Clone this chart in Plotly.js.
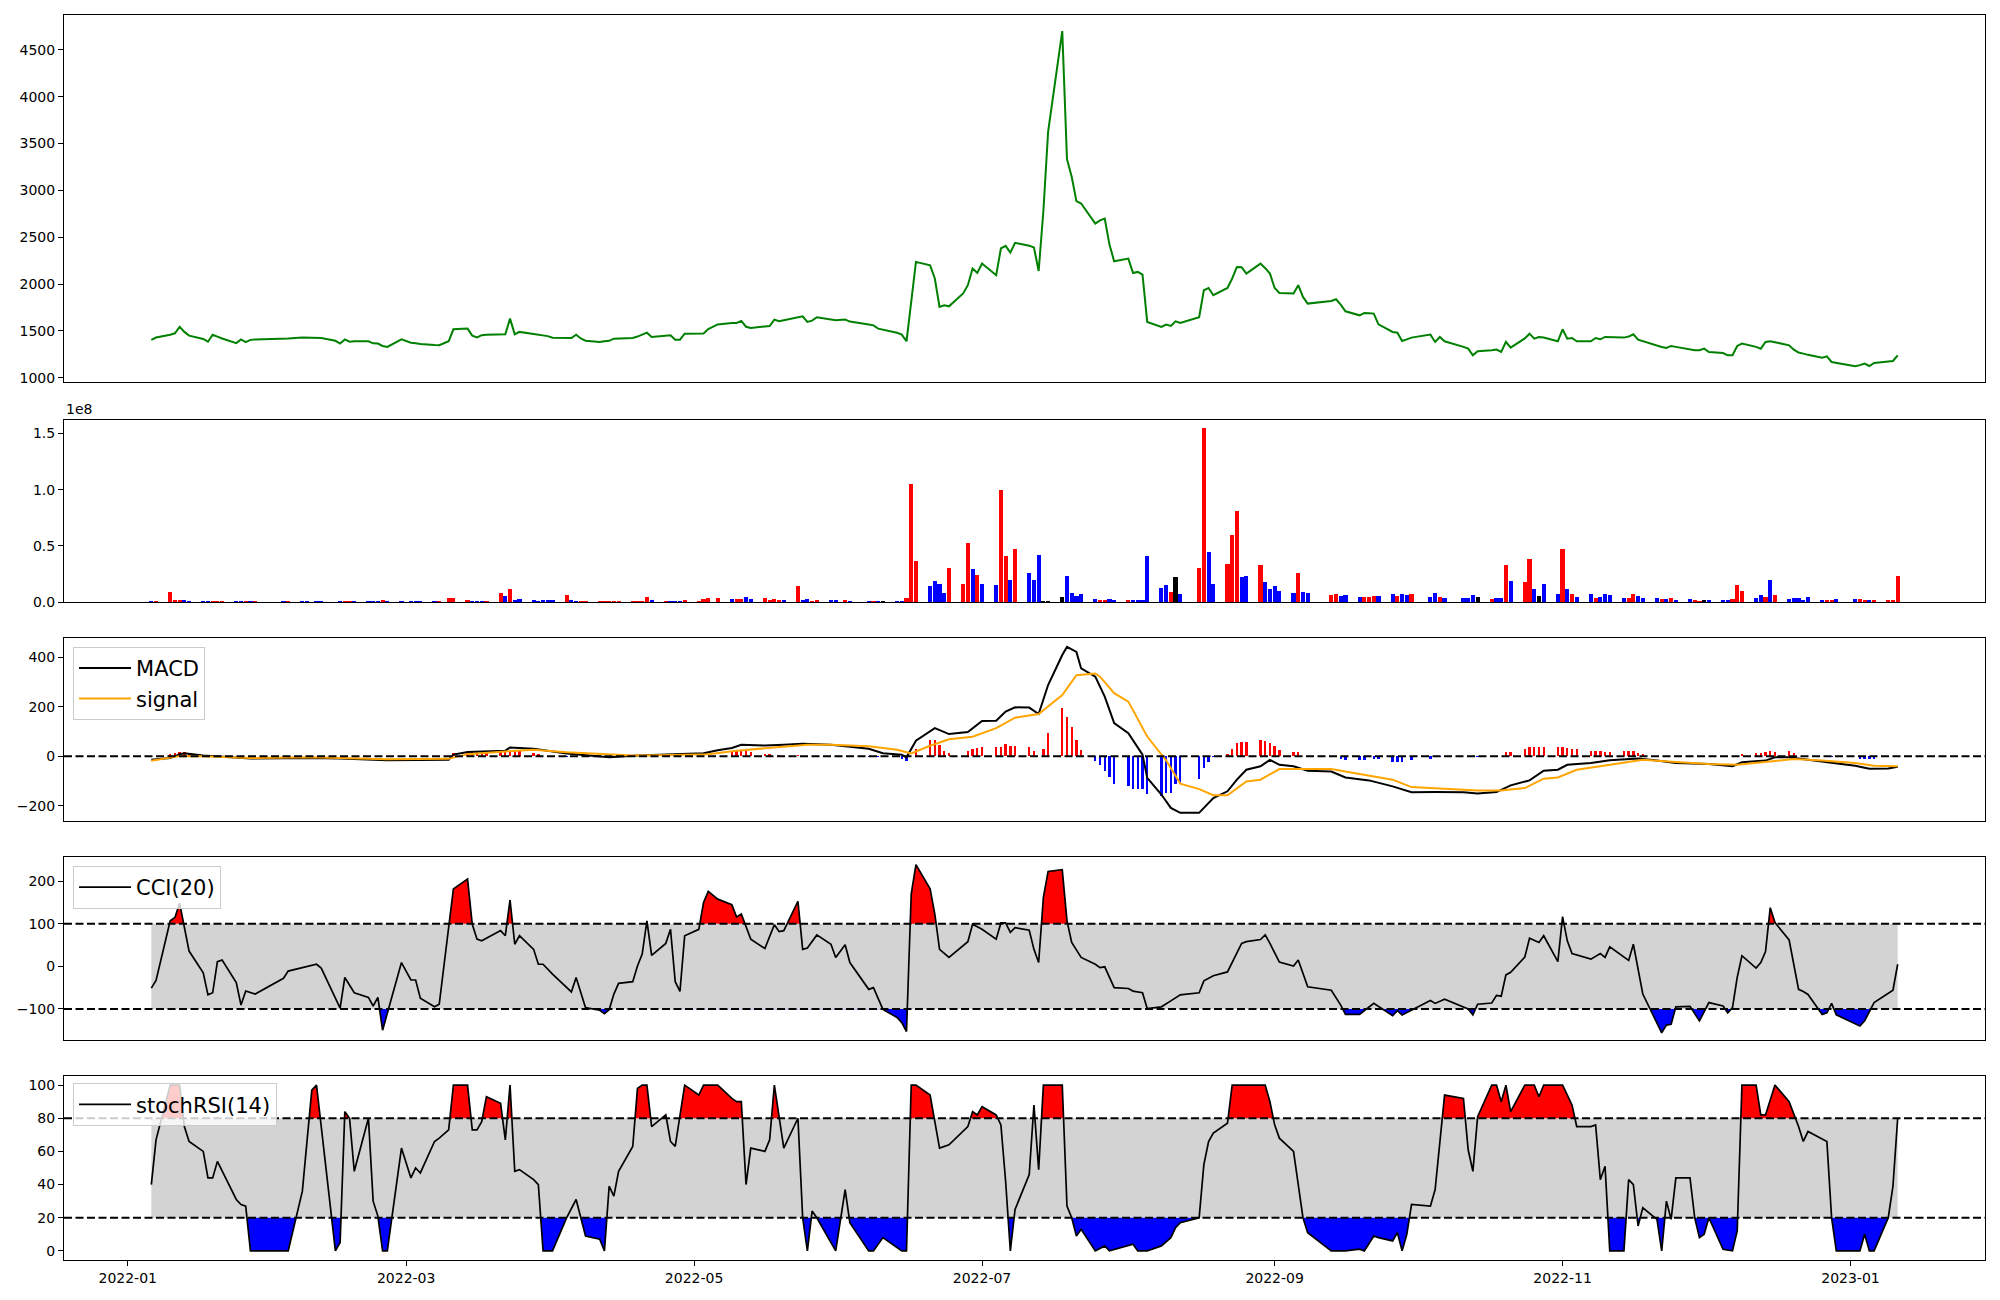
<!DOCTYPE html>
<html><head><meta charset="utf-8">
<script src="https://cdn.plot.ly/plotly-3.0.1.min.js"></script>
<style>html,body{margin:0;padding:0;background:#fff}#chart{width:2000px;height:1300px}</style>
</head><body><div id="chart"></div>
<script>
// ---------- trading days (KRX calendar) ----------
const tradingDates = [
"2022-01-06","2022-01-07","2022-01-10","2022-01-11","2022-01-12","2022-01-13","2022-01-14","2022-01-17","2022-01-18","2022-01-19","2022-01-20","2022-01-21","2022-01-24","2022-01-25","2022-01-26","2022-01-27","2022-01-28",
"2022-02-03","2022-02-04","2022-02-07","2022-02-08","2022-02-09","2022-02-10","2022-02-11","2022-02-14","2022-02-15","2022-02-16","2022-02-17","2022-02-18","2022-02-21","2022-02-22","2022-02-23","2022-02-24","2022-02-25","2022-02-28",
"2022-03-02","2022-03-03","2022-03-04","2022-03-07","2022-03-08","2022-03-10","2022-03-11","2022-03-14","2022-03-15","2022-03-16","2022-03-17","2022-03-18","2022-03-21","2022-03-22","2022-03-23","2022-03-24","2022-03-25","2022-03-28","2022-03-29","2022-03-30","2022-03-31",
"2022-04-01","2022-04-04","2022-04-05","2022-04-06","2022-04-07","2022-04-08","2022-04-11","2022-04-12","2022-04-13","2022-04-14","2022-04-15","2022-04-18","2022-04-19","2022-04-20","2022-04-21","2022-04-22","2022-04-25","2022-04-26","2022-04-27","2022-04-28","2022-04-29",
"2022-05-02","2022-05-03","2022-05-04","2022-05-06","2022-05-09","2022-05-10","2022-05-11","2022-05-12","2022-05-13","2022-05-16","2022-05-17","2022-05-18","2022-05-19","2022-05-20","2022-05-23","2022-05-24","2022-05-25","2022-05-26","2022-05-27","2022-05-30","2022-05-31",
"2022-06-02","2022-06-03","2022-06-07","2022-06-08","2022-06-09","2022-06-10","2022-06-13","2022-06-14","2022-06-15","2022-06-16","2022-06-17","2022-06-20","2022-06-21","2022-06-22","2022-06-23","2022-06-24","2022-06-27","2022-06-28","2022-06-29","2022-06-30",
"2022-07-01","2022-07-04","2022-07-05","2022-07-06","2022-07-07","2022-07-08","2022-07-11","2022-07-12","2022-07-13","2022-07-14","2022-07-15","2022-07-18","2022-07-19","2022-07-20","2022-07-21","2022-07-22","2022-07-25","2022-07-26","2022-07-27","2022-07-28","2022-07-29",
"2022-08-01","2022-08-02","2022-08-03","2022-08-04","2022-08-05","2022-08-08","2022-08-09","2022-08-10","2022-08-11","2022-08-12","2022-08-16","2022-08-17","2022-08-18","2022-08-19","2022-08-22","2022-08-23","2022-08-24","2022-08-25","2022-08-26","2022-08-29","2022-08-30","2022-08-31",
"2022-09-01","2022-09-02","2022-09-05","2022-09-06","2022-09-07","2022-09-08","2022-09-13","2022-09-14","2022-09-15","2022-09-16","2022-09-19","2022-09-20","2022-09-21","2022-09-22","2022-09-23","2022-09-26","2022-09-27","2022-09-28","2022-09-29","2022-09-30",
"2022-10-04","2022-10-05","2022-10-06","2022-10-07","2022-10-11","2022-10-12","2022-10-13","2022-10-14","2022-10-17","2022-10-18","2022-10-19","2022-10-20","2022-10-21","2022-10-24","2022-10-25","2022-10-26","2022-10-27","2022-10-28","2022-10-31",
"2022-11-01","2022-11-02","2022-11-03","2022-11-04","2022-11-07","2022-11-08","2022-11-09","2022-11-10","2022-11-11","2022-11-14","2022-11-15","2022-11-16","2022-11-17","2022-11-18","2022-11-21","2022-11-22","2022-11-23","2022-11-24","2022-11-25","2022-11-28","2022-11-29","2022-11-30",
"2022-12-01","2022-12-02","2022-12-05","2022-12-06","2022-12-07","2022-12-08","2022-12-09","2022-12-12","2022-12-13","2022-12-14","2022-12-15","2022-12-16","2022-12-19","2022-12-20","2022-12-21","2022-12-22","2022-12-23","2022-12-26","2022-12-27","2022-12-28","2022-12-29",
"2023-01-02","2023-01-03","2023-01-04","2023-01-05","2023-01-06","2023-01-09","2023-01-10","2023-01-11"];

const closePrice = [
1405,1430,1460,1475,1545,1490,1450,1415,1385,1460,1440,1420,1370,1410,1380,1405,1410,
1415,1420,1430,1428,1425,1430,1425,1395,1365,1410,1385,1390,1390,1368,1365,1340,1330,1410,
1375,1370,1362,1350,1348,1390,1518,1525,1450,1432,1455,1460,1462,1465,1632,1465,1490,1465,1460,1450,1445,
1428,1425,1425,1460,1420,1396,1383,1390,1395,1418,1420,1425,1440,1461,1482,1436,1450,1455,1407,1407,1471,
1471,1472,1520,1570,1585,1585,1607,1545,1532,1545,1553,1621,1603,1615,1650,1656,1596,1610,1646,1618,1614,
1621,1600,1570,1560,1525,1515,1480,1461,1390,1810,2237,2200,2060,1756,1774,1763,1900,1988,2166,2120,
2219,2095,2380,2408,2336,2440,2410,2390,2140,2780,3625,4700,3333,3145,2885,2860,2646,2680,2699,2422,2244,
2272,2119,2130,2101,1596,1543,1568,1553,1603,1585,1646,1934,1959,1881,1959,2060,2183,2180,2112,2219,2170,2112,
1959,1906,1899,1988,1863,1792,1820,1838,1781,1710,1667,1692,1688,1685,1571,1489,1482,1393,1410,1429,
1461,1383,1436,1390,1330,1311,1240,1283,1295,1301,1276,1383,1322,1420,1471,1418,1436,1430,1390,
1518,1418,1425,1390,1390,1425,1411,1436,1436,1429,1440,1464,1407,1390,1340,1329,1319,1340,1330,1305,1294,1294,
1311,1276,1265,1240,1240,1340,1365,1330,1311,1383,1390,1380,1347,1300,1269,1258,1245,1215,1229,1169,1160,
1123,1135,1151,1126,1158,1175,1180,1240];

// volume in millions of shares
const volumeM = [
0.9,0.9,9.1,2,2,2,0.9,0.9,0.9,0.9,0.9,0.9,0.9,0.9,0.9,0.9,0.9,
0.9,0.9,0.9,0.9,0.3,0.9,0.9,0.3,0.9,0.9,0.9,0.9,0.9,0.9,0.9,2,0.9,0.9,
0.9,0.9,0.9,0.9,0.9,3.8,3.8,2,0.9,0.9,0.9,0.9,8.3,5.6,11.8,2,3,2,0.9,2,2,
2,6.5,2,0.9,0.9,0.9,0.9,0.9,0.9,0.9,0.9,0.9,0.9,0.9,4.7,2,0.9,0.9,0.9,0.9,2,
0.9,3,3.8,3.8,3,3,3,4.7,3,3.8,2,3,2,2,14.5,2,3,0.9,2,2,2,
2,0.9,0.9,0.9,0.9,0.9,0.9,0.9,3.8,104.7,36.6,14.5,18.9,16.2,8.3,30.4,16.2,52.5,29.5,24.2,
16.2,15,99.4,41,19.8,47.2,26,19.8,41.9,1,1,4.7,23.3,8.3,5.6,7.4,3,2,2,3,2,
2,2,2,2,41,12.7,15.3,9.1,22.4,7.4,30.4,155,44.5,16.2,33.9,59.6,80.8,22.4,23.3,33,18,11.8,
14.5,10,8.3,26,9.1,8.3,6.5,7.4,5.6,6.5,4.7,4.7,4.7,5.6,5.6,7.4,5.6,7.4,6.5,7.4,
4.7,8.3,4.7,3.8,3.8,3.8,6.5,4.7,3,3.8,3.8,33,18.9,18,38.3,11.8,5.6,16.2,7.4,
47.2,11.8,7.4,4.7,7.4,3.8,4.7,7.4,6.5,3.8,3.8,7.4,5.6,3.8,3.8,3,3,3.8,2,3,2,0.9,
2,2,2,2,3,15.3,10,3.8,6.5,4.7,19.8,6.5,3,3.8,3.8,2,4.7,2,2,2,3,
3,3,2,2,2,2,2,23.3];

// 1 = close above open (red), -1 = below (blue), 0 = unchanged (black)
const candleDir = [
-1,1,1,1,1,-1,-1,-1,-1,1,1,1,-1,-1,1,-1,1,
-1,1,-1,-1,-1,-1,-1,-1,-1,1,1,-1,-1,-1,-1,1,-1,-1,
-1,-1,-1,-1,1,1,1,1,-1,-1,-1,1,1,-1,1,-1,-1,-1,-1,-1,-1,
-1,1,-1,-1,1,1,1,1,1,1,1,1,1,1,1,-1,1,-1,-1,-1,1,
1,1,1,1,-1,1,1,-1,-1,1,1,1,1,-1,1,-1,-1,1,1,-1,-1,
1,-1,-1,1,-1,0,-1,-1,1,1,1,-1,-1,-1,-1,1,1,1,-1,1,
-1,-1,1,1,-1,1,-1,-1,-1,0,0,0,-1,-1,-1,-1,-1,1,1,-1,-1,
1,-1,-1,-1,-1,-1,-1,1,0,-1,1,1,-1,-1,1,1,1,-1,-1,1,-1,-1,
-1,-1,-1,1,-1,-1,1,1,-1,-1,-1,1,1,1,-1,-1,1,-1,-1,1,
-1,-1,1,-1,-1,-1,-1,0,1,-1,-1,1,-1,1,1,-1,0,-1,-1,
1,-1,1,-1,-1,1,-1,-1,-1,-1,1,1,-1,-1,-1,1,-1,1,-1,-1,1,1,
0,-1,-1,-1,1,1,1,-1,-1,1,-1,1,-1,-1,-1,-1,-1,-1,1,1,-1,
-1,1,1,-1,1,1,1,1];

// ---------- MACD ----------
const macdDates = ["2022-01-06","2022-01-10","2022-01-12","2022-01-13","2022-01-17","2022-01-20","2022-01-27","2022-02-03","2022-02-09","2022-02-15","2022-02-25","2022-03-10","2022-03-11","2022-03-14","2022-03-22","2022-03-23","2022-03-28","2022-04-04","2022-04-08","2022-04-13","2022-04-19","2022-04-27","2022-05-03","2022-05-06","2022-05-09","2022-05-11","2022-05-16","2022-05-20","2022-05-24","2022-05-30","2022-06-07","2022-06-10","2022-06-14","2022-06-15","2022-06-17","2022-06-21","2022-06-24","2022-06-28","2022-07-01","2022-07-04","2022-07-06","2022-07-08","2022-07-11","2022-07-13","2022-07-15","2022-07-18","2022-07-19","2022-07-21","2022-07-22","2022-07-25","2022-07-27","2022-07-29","2022-08-01","2022-08-04","2022-08-05","2022-08-08","2022-08-10","2022-08-12","2022-08-16","2022-08-19","2022-08-22","2022-08-24","2022-08-26","2022-08-29","2022-08-31","2022-09-02","2022-09-05","2022-09-08","2022-09-13","2022-09-16","2022-09-21","2022-09-26","2022-09-30","2022-10-05","2022-10-11","2022-10-14","2022-10-18","2022-10-21","2022-10-25","2022-10-28","2022-10-31","2022-11-02","2022-11-07","2022-11-11","2022-11-17","2022-11-21","2022-11-25","2022-12-02","2022-12-07","2022-12-09","2022-12-14","2022-12-16","2022-12-19","2022-12-21","2022-12-29","2023-01-02","2023-01-05","2023-01-09","2023-01-11"];
const macdValues = [-15,-8,8,12,3,-1,-10,-9,-8,-10,-17,-15,6,17,22,35,30,11,3,-5,3,8,12,24,33,46,43,46,50,46,30,12,6,-5,62,113,89,97,142,143,180,197,196,170,287,408,441,421,354,321,240,133,93,6,-88,-155,-209,-229,-229,-169,-142,-95,-55,-41,-15,-35,-41,-59,-62,-86,-98,-122,-146,-145,-146,-151,-145,-118,-98,-59,-55,-35,-28,-17,-10,-18,-28,-32,-41,-25,-18,-5,-5,-10,-28,-39,-51,-50,-43];

const signalDates = ["2022-01-06","2022-01-12","2022-01-17","2022-01-27","2022-02-09","2022-02-25","2022-03-10","2022-03-14","2022-03-22","2022-03-28","2022-04-04","2022-04-11","2022-04-18","2022-04-27","2022-05-04","2022-05-10","2022-05-18","2022-05-25","2022-05-30","2022-06-07","2022-06-13","2022-06-16","2022-06-20","2022-06-24","2022-06-29","2022-07-04","2022-07-08","2022-07-13","2022-07-18","2022-07-21","2022-07-25","2022-07-26","2022-07-29","2022-08-01","2022-08-05","2022-08-09","2022-08-12","2022-08-16","2022-08-19","2022-08-22","2022-08-26","2022-08-29","2022-09-02","2022-09-08","2022-09-13","2022-09-19","2022-09-26","2022-09-30","2022-10-07","2022-10-14","2022-10-19","2022-10-24","2022-10-28","2022-10-31","2022-11-04","2022-11-11","2022-11-18","2022-11-25","2022-12-02","2022-12-08","2022-12-14","2022-12-20","2022-12-26","2023-01-02","2023-01-06","2023-01-11"];
const signalValues = [-19,0,0,-8,-5,-13,-11,8,19,26,16,10,3,5,8,22,35,46,46,40,26,11,42,68,78,113,155,170,247,327,334,321,254,220,79,-17,-111,-133,-158,-158,-102,-95,-52,-51,-52,-72,-95,-125,-133,-139,-139,-129,-91,-86,-55,-35,-15,-24,-32,-35,-25,-12,-18,-28,-39,-41];

const histDates = ["2022-01-10","2022-01-11","2022-01-12","2022-01-13","2022-01-14","2022-01-17",
"2022-03-11","2022-03-14","2022-03-15","2022-03-16","2022-03-17","2022-03-18","2022-03-21","2022-03-22","2022-03-23","2022-03-24","2022-03-25","2022-03-28","2022-03-29",
"2022-04-04","2022-04-06","2022-04-08",
"2022-05-09","2022-05-10","2022-05-11","2022-05-12","2022-05-13","2022-05-16","2022-05-17","2022-05-19","2022-05-23",
"2022-06-07","2022-06-09","2022-06-10","2022-06-14","2022-06-15","2022-06-17","2022-06-20","2022-06-21","2022-06-22","2022-06-23","2022-06-24","2022-06-28","2022-06-29","2022-06-30",
"2022-07-01","2022-07-04","2022-07-05","2022-07-06","2022-07-07","2022-07-08","2022-07-11","2022-07-12","2022-07-14","2022-07-15","2022-07-18","2022-07-19","2022-07-20","2022-07-21","2022-07-22","2022-07-25","2022-07-26","2022-07-27","2022-07-28","2022-07-29",
"2022-08-01","2022-08-02","2022-08-03","2022-08-04","2022-08-05","2022-08-08","2022-08-09","2022-08-10","2022-08-11","2022-08-12","2022-08-16","2022-08-17","2022-08-18","2022-08-19","2022-08-22","2022-08-23","2022-08-24","2022-08-25","2022-08-26","2022-08-29","2022-08-30","2022-08-31",
"2022-09-01","2022-09-02","2022-09-05","2022-09-06","2022-09-08","2022-09-13","2022-09-15","2022-09-16","2022-09-19","2022-09-20","2022-09-22","2022-09-23","2022-09-26","2022-09-27","2022-09-28","2022-09-30",
"2022-10-04","2022-10-06","2022-10-14","2022-10-20","2022-10-21","2022-10-24","2022-10-25","2022-10-26","2022-10-27","2022-10-28","2022-10-31",
"2022-11-01","2022-11-02","2022-11-03","2022-11-04","2022-11-07","2022-11-08","2022-11-09","2022-11-10","2022-11-11","2022-11-14","2022-11-15","2022-11-16","2022-11-17","2022-11-18","2022-11-25",
"2022-12-09","2022-12-12","2022-12-13","2022-12-14","2022-12-15","2022-12-16","2022-12-19","2022-12-20","2022-12-27","2022-12-28","2022-12-29",
"2023-01-03","2023-01-04","2023-01-05","2023-01-06","2023-01-09"];
const histValues = [8,14,16,16,11,5,
12,16,19,19,19,16,16,16,19,19,19,12,8,
-5,-5,-3,
16,22,26,19,16,8,8,6,6,
-5,-5,-5,-10,-18,30,66,66,46,19,12,22,28,32,
38,35,35,48,39,39,36,22,30,93,193,160,117,66,26,-18,-37,-59,-85,-111,
-122,-133,-133,-133,-153,-162,-149,-149,-111,-111,-91,-48,-25,-5,8,30,52,57,57,66,62,52,
39,26,15,15,-5,-5,-10,-16,-16,-16,-10,-10,-24,-24,-24,-17,
-10,-5,-2,16,16,30,38,38,38,38,35,
38,33,28,28,22,22,19,16,16,19,19,19,14,8,-2,
8,11,14,16,19,16,19,14,-5,-5,-5,
-10,-10,-10,-10,-5];

// ---------- CCI(20) ----------
const cciDates = ["2022-01-06","2022-01-07","2022-01-10","2022-01-11","2022-01-12","2022-01-14","2022-01-17","2022-01-18","2022-01-19","2022-01-20","2022-01-21","2022-01-24","2022-01-25","2022-01-26","2022-01-28",
"2022-02-03","2022-02-04","2022-02-07","2022-02-10","2022-02-11","2022-02-15","2022-02-16","2022-02-18","2022-02-21","2022-02-22","2022-02-23","2022-02-24","2022-02-28",
"2022-03-02","2022-03-03","2022-03-04","2022-03-07","2022-03-08","2022-03-11","2022-03-14","2022-03-15","2022-03-16","2022-03-17","2022-03-21","2022-03-22","2022-03-23","2022-03-24","2022-03-25","2022-03-28","2022-03-29","2022-03-30",
"2022-04-01","2022-04-05","2022-04-06","2022-04-08","2022-04-11","2022-04-12","2022-04-13","2022-04-14","2022-04-15","2022-04-18","2022-04-19","2022-04-20","2022-04-21","2022-04-22","2022-04-25","2022-04-26","2022-04-27","2022-04-28","2022-04-29",
"2022-05-02","2022-05-03","2022-05-04","2022-05-06","2022-05-09","2022-05-10","2022-05-11","2022-05-13","2022-05-16","2022-05-18","2022-05-19","2022-05-20","2022-05-23","2022-05-24","2022-05-25","2022-05-27","2022-05-30","2022-05-31",
"2022-06-02","2022-06-03","2022-06-07","2022-06-08","2022-06-10","2022-06-13","2022-06-14","2022-06-15","2022-06-16","2022-06-17","2022-06-20","2022-06-21","2022-06-22","2022-06-24","2022-06-28","2022-06-29",
"2022-07-01","2022-07-04","2022-07-05","2022-07-06","2022-07-07","2022-07-08","2022-07-11","2022-07-12","2022-07-13","2022-07-14","2022-07-15","2022-07-18","2022-07-19","2022-07-20","2022-07-22","2022-07-25","2022-07-26","2022-07-27","2022-07-29",
"2022-08-01","2022-08-02","2022-08-04","2022-08-05","2022-08-08","2022-08-10","2022-08-12","2022-08-16","2022-08-17","2022-08-19","2022-08-22","2022-08-25","2022-08-26","2022-08-29","2022-08-30","2022-08-31",
"2022-09-02","2022-09-05","2022-09-06","2022-09-08","2022-09-13","2022-09-15","2022-09-16","2022-09-19","2022-09-21","2022-09-22","2022-09-26","2022-09-27","2022-09-28",
"2022-10-04","2022-10-05","2022-10-07","2022-10-12","2022-10-13","2022-10-14","2022-10-17","2022-10-18","2022-10-19","2022-10-20","2022-10-21","2022-10-24","2022-10-25","2022-10-27","2022-10-28","2022-10-31",
"2022-11-01","2022-11-02","2022-11-03","2022-11-07","2022-11-09","2022-11-10","2022-11-11","2022-11-15","2022-11-16","2022-11-18","2022-11-22","2022-11-23","2022-11-24","2022-11-25","2022-11-28","2022-11-30",
"2022-12-02","2022-12-05","2022-12-06","2022-12-07","2022-12-08","2022-12-09","2022-12-12","2022-12-13","2022-12-14","2022-12-15","2022-12-16","2022-12-19","2022-12-21","2022-12-22","2022-12-23","2022-12-26","2022-12-27","2022-12-28","2022-12-29",
"2023-01-03","2023-01-04","2023-01-06","2023-01-10","2023-01-11"];
const cciValues = [-51,-33,107,115,148,36,-15,-67,-62,11,15,-38,-91,-58,-65,
-28,-11,-3,5,-4,-98,-26,-62,-73,-93,-73,-150,9,
-32,-32,-75,-95,-89,182,205,99,64,60,84,72,156,52,72,40,5,5,
-18,-60,-26,-97,-103,-111,-102,-65,-40,-36,1,29,107,26,54,87,-36,-59,72,
87,150,176,158,145,116,123,64,42,98,82,84,153,40,43,74,52,21,
51,9,-54,-50,-101,-120,-132,-153,170,239,182,123,40,21,58,99,
87,64,102,102,80,91,85,40,9,162,223,227,107,56,21,5,-3,-1,-50,
-52,-58,-62,-99,-95,-81,-67,-62,-34,-22,-13,54,58,63,74,54,
10,1,15,-48,-56,-91,-113,-113,-95,-87,-116,-104,-114,
-80,-87,-77,-100,-114,-89,-86,-68,-70,-20,-14,22,66,56,72,11,
117,60,30,17,30,21,46,14,52,-65,-156,-138,-136,-95,-94,-128,
-85,-93,-109,-97,-26,25,-4,9,35,138,103,62,-54,-59,-66,-113,-109,-87,-114,
-140,-128,-85,-56,5];

// ---------- stochRSI(14) ----------
const stochDates = ["2022-01-06","2022-01-07","2022-01-10","2022-01-11","2022-01-12","2022-01-13","2022-01-14","2022-01-17","2022-01-18","2022-01-19","2022-01-20","2022-01-24","2022-01-25","2022-01-26","2022-01-27","2022-01-28",
"2022-02-03","2022-02-04","2022-02-07","2022-02-09","2022-02-10","2022-02-14","2022-02-15","2022-02-16","2022-02-17","2022-02-18","2022-02-21","2022-02-22","2022-02-23","2022-02-24","2022-02-25","2022-02-28",
"2022-03-02","2022-03-03","2022-03-04","2022-03-07","2022-03-08","2022-03-10","2022-03-11","2022-03-14","2022-03-15","2022-03-16","2022-03-17","2022-03-18","2022-03-21","2022-03-22","2022-03-23","2022-03-24","2022-03-25","2022-03-28","2022-03-29","2022-03-30",
"2022-04-01","2022-04-04","2022-04-06","2022-04-08","2022-04-11","2022-04-12","2022-04-13","2022-04-14","2022-04-15","2022-04-18","2022-04-19","2022-04-20","2022-04-21","2022-04-22","2022-04-25","2022-04-26","2022-04-27","2022-04-29",
"2022-05-02","2022-05-03","2022-05-06","2022-05-09","2022-05-10","2022-05-11","2022-05-12","2022-05-13","2022-05-16","2022-05-17","2022-05-18","2022-05-19","2022-05-20","2022-05-23","2022-05-24","2022-05-25","2022-05-26","2022-05-27","2022-05-31",
"2022-06-02","2022-06-03","2022-06-07","2022-06-08","2022-06-10","2022-06-14","2022-06-15","2022-06-16","2022-06-17","2022-06-20","2022-06-22","2022-06-24","2022-06-28","2022-06-29","2022-06-30",
"2022-07-01","2022-07-04","2022-07-05","2022-07-06","2022-07-07","2022-07-08","2022-07-11","2022-07-12","2022-07-13","2022-07-14","2022-07-15","2022-07-18","2022-07-19","2022-07-20","2022-07-21","2022-07-22","2022-07-25","2022-07-27","2022-07-28",
"2022-08-01","2022-08-02","2022-08-03","2022-08-05","2022-08-08","2022-08-10","2022-08-11","2022-08-12","2022-08-16","2022-08-17","2022-08-18","2022-08-19","2022-08-22","2022-08-23","2022-08-30","2022-08-31",
"2022-09-01","2022-09-02","2022-09-05","2022-09-06","2022-09-07","2022-09-08","2022-09-13","2022-09-16","2022-09-19","2022-09-20","2022-09-22","2022-09-23","2022-09-26","2022-09-27","2022-09-28","2022-09-29","2022-09-30",
"2022-10-04","2022-10-05","2022-10-07","2022-10-11","2022-10-12","2022-10-13","2022-10-14","2022-10-17","2022-10-18","2022-10-19","2022-10-20","2022-10-21","2022-10-24","2022-10-26","2022-10-27","2022-10-28",
"2022-11-01","2022-11-03","2022-11-04","2022-11-07","2022-11-08","2022-11-09","2022-11-10","2022-11-11","2022-11-14","2022-11-15","2022-11-16","2022-11-17","2022-11-18","2022-11-21","2022-11-22","2022-11-23","2022-11-24","2022-11-25","2022-11-28","2022-11-29","2022-11-30",
"2022-12-01","2022-12-02","2022-12-05","2022-12-07","2022-12-08","2022-12-09","2022-12-12","2022-12-13","2022-12-14","2022-12-16","2022-12-19","2022-12-21","2022-12-22","2022-12-23","2022-12-27","2022-12-28","2022-12-29",
"2023-01-03","2023-01-04","2023-01-05","2023-01-06","2023-01-09","2023-01-10","2023-01-11"];
const stochValues = [40,67,100,100,100,75,66,60,44,44,54,31,28,27,0,0,
0,0,36,97,100,0,5,84,80,48,80,30,21,0,0,62,
44,50,47,66,68,73,100,100,73,73,78,93,89,67,100,48,49,43,40,0,
0,20,31,9,7,0,39,33,48,63,98,100,100,75,82,66,63,100,
94,100,100,92,90,90,40,62,60,67,100,81,62,80,20,0,24,20,0,
37,17,0,0,8,0,0,100,100,94,62,64,75,84,82,
87,82,76,42,0,25,46,88,49,100,100,100,27,20,9,13,0,3,0,
3,4,0,0,3,8,14,17,20,52,66,71,77,100,100,90,
76,68,60,39,20,11,0,0,1,0,9,8,6,11,0,10,28,
27,37,94,92,61,48,81,100,100,90,100,84,100,100,93,100,
100,88,75,75,76,43,51,0,0,43,40,15,26,19,0,30,19,44,44,20,8,
10,20,1,0,12,100,100,82,82,100,90,75,66,72,66,20,0,
0,10,0,0,20,39,80];

// ---------- helpers ----------
const ms = d => Date.parse(d);
function beyondPolygon(dates, vals, thr, above) {
  const xs = dates.map(ms), px = [], py = [];
  const out = v => above ? v > thr : v < thr;
  for (let i = 0; i < xs.length; i++) {
    if (i > 0) {
      const y0 = vals[i-1], y1 = vals[i];
      if ((y0 - thr) * (y1 - thr) < 0) {
        px.push(xs[i-1] + (thr - y0) / (y1 - y0) * (xs[i] - xs[i-1])); py.push(thr);
      }
    }
    px.push(xs[i]); py.push(out(vals[i]) ? vals[i] : thr);
  }
  px.push(xs[xs.length-1], xs[0]); py.push(thr, thr);
  return {x: px, y: py};
}
function band(dates, lo, hi, xa, ya) {
  const a = dates[0], b = dates[dates.length-1];
  return {x:[a,b,b,a,a], y:[lo,lo,hi,hi,lo], xaxis:xa, yaxis:ya, type:'scatter', mode:'lines',
    fill:'toself', fillcolor:'#d3d3d3', line:{width:0}, hoverinfo:'skip', showlegend:false};
}
function fillTrace(poly, color, xa, ya) {
  return {x:poly.x, y:poly.y, xaxis:xa, yaxis:ya, type:'scatter', mode:'lines', fill:'toself',
    fillcolor:color, line:{width:0}, hoverinfo:'skip', showlegend:false};
}

const traces = [];
// price
traces.push({x:tradingDates, y:closePrice, xaxis:'x', yaxis:'y', type:'scatter', mode:'lines',
  line:{color:'#008000', width:2}, showlegend:false});
// volume
traces.push({x:tradingDates, y:volumeM, xaxis:'x2', yaxis:'y2', type:'bar', width:0.88*86400000,
  marker:{color:candleDir.map(d => d > 0 ? '#ff0000' : (d < 0 ? '#0000ff' : '#000000')), line:{width:0}},
  showlegend:false});
// MACD
traces.push({x:histDates, y:histValues, xaxis:'x3', yaxis:'y3', type:'bar', width:0.5*86400000,
  marker:{color:histValues.map(v => v >= 0 ? '#ff0000' : '#0000ff'), line:{width:0}}, showlegend:false});
traces.push({x:macdDates, y:macdValues, xaxis:'x3', yaxis:'y3', type:'scatter', mode:'lines',
  line:{color:'#000000', width:2}, name:'MACD', legend:'legend'});
traces.push({x:signalDates, y:signalValues, xaxis:'x3', yaxis:'y3', type:'scatter', mode:'lines',
  line:{color:'#ffa500', width:2}, name:'signal', legend:'legend'});
// CCI
traces.push(band(cciDates, -100, 100, 'x4', 'y4'));
traces.push(fillTrace(beyondPolygon(cciDates, cciValues, 100, true), '#ff0000', 'x4', 'y4'));
traces.push(fillTrace(beyondPolygon(cciDates, cciValues, -100, false), '#0000ff', 'x4', 'y4'));
traces.push({x:cciDates, y:cciValues, xaxis:'x4', yaxis:'y4', type:'scatter', mode:'lines',
  line:{color:'#000000', width:1.7}, name:'CCI(20)', legend:'legend2'});
// stochRSI
traces.push(band(stochDates, 20, 80, 'x5', 'y5'));
traces.push(fillTrace(beyondPolygon(stochDates, stochValues, 80, true), '#ff0000', 'x5', 'y5'));
traces.push(fillTrace(beyondPolygon(stochDates, stochValues, 20, false), '#0000ff', 'x5', 'y5'));
traces.push({x:stochDates, y:stochValues, xaxis:'x5', yaxis:'y5', type:'scatter', mode:'lines',
  line:{color:'#000000', width:1.7}, name:'stochRSI(14)', legend:'legend3'});

const xRange = ['2021-12-18 12:00', '2023-01-29 12:00'];
const frame = {showline:true, linecolor:'black', linewidth:1, mirror:true, showgrid:false, zeroline:false};
const yTicks = {ticks:'outside', ticklen:5, tickwidth:1, tickcolor:'black', tickfont:{size:14}};
const hiddenX = (anchor) => Object.assign({type:'date', range:xRange, anchor:anchor, showticklabels:false, ticks:''}, frame);

function hline(n, y) {
  return {type:'line', xref:'x'+n+' domain', x0:0, x1:1, yref:'y'+n, y0:y, y1:y,
    line:{color:'black', width:2, dash:'8px,3.5px'}, layer:'above'};
}
const legendBase = {xref:'paper', yref:'paper', xanchor:'left', yanchor:'top', bgcolor:'rgba(255,255,255,0.8)',
  bordercolor:'#cccccc', borderwidth:1, font:{size:21, family:'DejaVu Sans', color:'black'}, itemwidth:52, tracegroupgap:0};

const layout = {
  width:2000, height:1300, margin:{l:64, r:15, t:15, b:40},
  paper_bgcolor:'white', plot_bgcolor:'white',
  font:{family:'DejaVu Sans', size:14, color:'black'},
  bargap:0,
  xaxis: hiddenX('y'),
  xaxis2: hiddenX('y2'),
  xaxis3: hiddenX('y3'),
  xaxis4: hiddenX('y4'),
  xaxis5: Object.assign({type:'date', range:xRange, anchor:'y5', tickformat:'%Y-%m', dtick:'M2', tick0:'2022-01-01',
    ticks:'outside', ticklen:5, tickwidth:1, tickcolor:'black', tickfont:{size:14}}, frame),
  yaxis: Object.assign({domain:[0.7052, 1], range:[955, 4872], tickvals:[1000,1500,2000,2500,3000,3500,4000,4500], anchor:'x'}, frame, yTicks),
  yaxis2: Object.assign({domain:[0.5285, 0.6747], range:[0, 162], tickvals:[0,50,100,150], ticktext:['0.0','0.5','1.0','1.5'], anchor:'x2'}, frame, yTicks),
  yaxis3: Object.assign({domain:[0.3526, 0.4996], range:[-262, 477], tickvals:[-200,0,200,400], anchor:'x3'}, frame, yTicks),
  yaxis4: Object.assign({domain:[0.1767, 0.3237], range:[-173, 257], tickvals:[-100,0,100,200], anchor:'x4'}, frame, yTicks),
  yaxis5: Object.assign({domain:[0, 0.1478], range:[-5.5, 105.5], tickvals:[0,20,40,60,80,100], anchor:'x5'}, frame, yTicks),
  legend: Object.assign({x:0.0047, y:0.4924}, legendBase),
  legend2: Object.assign({x:0.0047, y:0.3165}, legendBase),
  legend3: Object.assign({x:0.0047, y:0.1420}, legendBase),
  shapes: [hline(3, 0), hline(4, 100), hline(4, -100), hline(5, 80), hline(5, 20)],
  annotations: [{text:'1e8', xref:'paper', yref:'paper', x:0, y:0.6835, xanchor:'left', yanchor:'middle',
    showarrow:false, font:{size:14, color:'black'}}]
};

Plotly.newPlot('chart', traces, layout, {displayModeBar:false, staticPlot:true});
</script>
</body></html>
